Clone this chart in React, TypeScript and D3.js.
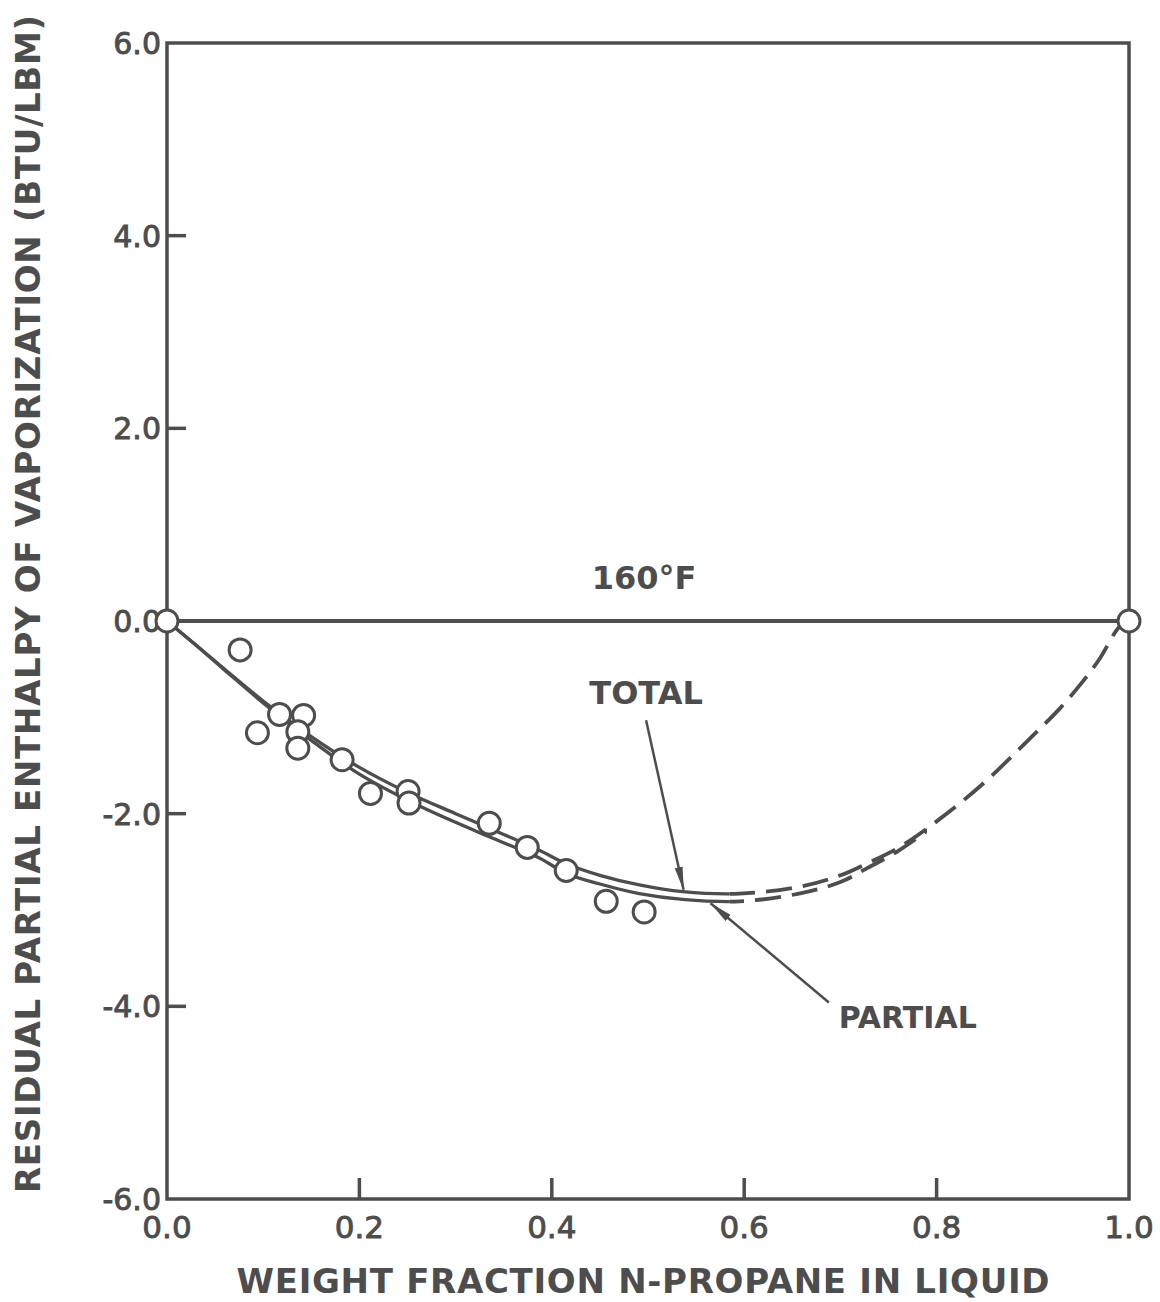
import React from "react";
import * as d3 from "d3";

// Residual partial enthalpy of vaporization vs. weight fraction n-propane, 160°F
const xTicks = [0.2, 0.4, 0.6, 0.8];
const yTicks = [4, 2, -2, -4];
const xTickLabels = ["0.0", "0.2", "0.4", "0.6", "0.8", "1.0"];
const xTickLabelValues = [0, 0.2, 0.4, 0.6, 0.8, 1.0];
const yTickLabels = ["6.0", "4.0", "2.0", "0.0", "-2.0", "-4.0", "-6.0"];
const yTickLabelValues = [6, 4, 2, 0, -2, -4, -6];

// Smoothed curves (x = weight fraction, y = BTU/LBM)
const curveX = [0, 0.03, 0.06, 0.1, 0.15, 0.2, 0.25, 0.3, 0.335, 0.387, 0.415, 0.45, 0.491, 0.536, 0.595, 0.657, 0.7, 0.727, 0.761, 0.8, 0.847, 0.899, 0.927, 0.951, 0.969, 0.99, 1.0];
const totalY = [0, -0.25, -0.50, -0.83, -1.20, -1.52, -1.78, -2.00, -2.15, -2.38, -2.52, -2.64, -2.74, -2.81, -2.83, -2.76, -2.64, -2.52, -2.35, -2.08, -1.70, -1.20, -0.92, -0.64, -0.40, -0.06, 0];
const partialY = [0, -0.25, -0.51, -0.85, -1.24, -1.59, -1.86, -2.09, -2.24, -2.46, -2.62, -2.73, -2.83, -2.89, -2.91, -2.83, -2.71, -2.57, -2.38, -2.10, -1.71, -1.20, -0.92, -0.64, -0.40, -0.06, 0];
const solidLimit = 0.585; // curves are dashed (extrapolated) beyond this fraction
const mergeLimit = 0.79; // past this fraction the two dashed curves coincide

// Measured points
const pointX = [0, 0.076, 0.094, 0.117, 0.142, 0.136, 0.136, 0.182, 0.2115, 0.2506, 0.2516, 0.335, 0.3745, 0.415, 0.4566, 0.496, 1.0];
const pointY = [0, -0.30, -1.16, -0.97, -0.98, -1.15, -1.32, -1.44, -1.79, -1.77, -1.89, -2.10, -2.35, -2.59, -2.91, -3.02, 0];

const W = 1160;
const H = 1302;
const INK = "#4d4d4d";
const FONT = "'DejaVu Sans', Verdana, sans-serif";

export default function App() {
  const x = d3.scaleLinear().domain([0, 1]).range([167, 1129]);
  const y = d3.scaleLinear().domain([-6, 6]).range([1199, 43]);

  const line = d3
    .line<[number, number]>()
    .x((d) => x(d[0]))
    .y((d) => y(d[1]))
    .curve(d3.curveCatmullRom.alpha(0.5));

  const totalPath = line(curveX.map((v, i) => [v, totalY[i]] as [number, number])) || "";
  const partialPath = line(curveX.map((v, i) => [v, partialY[i]] as [number, number])) || "";

  const [x0, x1] = x.range();
  const [yb, yt] = y.range();
  const splitX = x(solidLimit);
  const mergeX = x(mergeLimit);

  // Annotation anchors in data units
  const totalLabel = { x: 0.498, y: -0.86 };
  const totalArrow = { from: [0.498, -1.03], to: [0.537, -2.79] };
  const partialLabel = { x: 0.77, y: -4.22 };
  const partialArrow = { from: [0.688, -3.96], to: [0.565, -2.93] };
  const tempLabel = { x: 0.496, y: 0.33 };

  return (
    <svg
      width={W}
      height={H}
      viewBox={`0 0 ${W} ${H}`}
      style={{ position: "absolute", left: 0, top: 0, background: "#fff" }}
    >
      <defs>
        <clipPath id="solidPart">
          <rect x={0} y={0} width={splitX} height={H} />
        </clipPath>
        <clipPath id="dashedPart">
          <rect x={splitX} y={0} width={W - splitX} height={H} />
        </clipPath>
        <clipPath id="dashedSplit">
          <rect x={splitX} y={0} width={mergeX - splitX} height={H} />
        </clipPath>
        <marker
          id="arrowHead"
          viewBox="0 0 24 10"
          refX={23}
          refY={5}
          markerWidth={24}
          markerHeight={10}
          markerUnits="userSpaceOnUse"
          orient="auto"
        >
          <path d="M0,1 L24,5 L0,9 Z" fill={INK} />
        </marker>
      </defs>

      <rect x={0} y={0} width={W} height={H} fill="#fff" />

      {/* frame */}
      <rect x={x0} y={yt} width={x1 - x0} height={yb - yt} fill="none" stroke={INK} strokeWidth={3.5} />

      {/* zero line */}
      <line x1={x0} x2={x1} y1={y(0)} y2={y(0)} stroke={INK} strokeWidth={4} />

      {/* inward ticks */}
      {xTicks.map((t) => (
        <line key={`xt${t}`} x1={x(t)} x2={x(t)} y1={yb} y2={yb - 21} stroke={INK} strokeWidth={3.5} />
      ))}
      {yTicks.map((t) => (
        <line key={`yt${t}`} x1={x0} x2={x0 + 19} y1={y(t)} y2={y(t)} stroke={INK} strokeWidth={3.5} />
      ))}

      {/* tick labels */}
      <g fontFamily={FONT} fill={INK} stroke={INK} strokeWidth={0.9}>
        {xTickLabelValues.map((v, i) => (
          <text key={`xl${v}`} x={x(v)} y={1238} textAnchor="middle" fontSize={31}>
            {xTickLabels[i]}
          </text>
        ))}
        {yTickLabelValues.map((v, i) => (
          <text key={`yl${v}`} x={161} y={y(v) + 11} textAnchor="end" fontSize={30}>
            {yTickLabels[i]}
          </text>
        ))}
      </g>

      {/* curves */}
      <g fill="none" stroke={INK} strokeWidth={3.3}>
        <path d={totalPath} clipPath="url(#solidPart)" />
        <path d={partialPath} clipPath="url(#solidPart)" />
        <path d={totalPath} clipPath="url(#dashedPart)" strokeDasharray="26 11" strokeDashoffset={-8} strokeWidth={3.8} />
        <path d={partialPath} clipPath="url(#dashedSplit)" strokeDasharray="26 11" strokeDashoffset={-2} strokeWidth={3.8} />
      </g>

      {/* measured points */}
      {pointX.map((px, i) => (
        <circle
          key={`p${i}`}
          cx={x(px)}
          cy={y(pointY[i])}
          r={11}
          fill="#fff"
          stroke={INK}
          strokeWidth={3}
        />
      ))}

      {/* annotations */}
      <text x={x(tempLabel.x)} y={y(tempLabel.y)} textAnchor="middle" fontFamily={FONT} fontSize={32} fontWeight="bold" fill={INK}>
        160°F
      </text>
      <text x={x(totalLabel.x)} y={y(totalLabel.y)} textAnchor="middle" fontFamily={FONT} fontSize={32} fontWeight="bold" fill={INK}>
        TOTAL
      </text>
      <line
        x1={x(totalArrow.from[0])}
        y1={y(totalArrow.from[1])}
        x2={x(totalArrow.to[0])}
        y2={y(totalArrow.to[1])}
        stroke={INK}
        strokeWidth={2.5}
        markerEnd="url(#arrowHead)"
      />
      <text x={x(partialLabel.x)} y={y(partialLabel.y)} textAnchor="middle" fontFamily={FONT} fontSize={30} fontWeight="bold" fill={INK}>
        PARTIAL
      </text>
      <line
        x1={x(partialArrow.from[0])}
        y1={y(partialArrow.from[1])}
        x2={x(partialArrow.to[0])}
        y2={y(partialArrow.to[1])}
        stroke={INK}
        strokeWidth={2.5}
        markerEnd="url(#arrowHead)"
      />

      {/* axis titles */}
      <text
        x={643}
        y={1293}
        textAnchor="middle"
        fontFamily={FONT}
        fontSize={34}
        fontWeight="bold"
        fill={INK}
        textLength={813}
        lengthAdjust="spacing"
      >
        WEIGHT FRACTION N-PROPANE IN LIQUID
      </text>
      <text
        transform="translate(40,604) rotate(-90)"
        textAnchor="middle"
        fontFamily={FONT}
        fontSize={34}
        fontWeight="bold"
        fill={INK}
        textLength={1178}
        lengthAdjust="spacing"
      >
        RESIDUAL PARTIAL ENTHALPY OF VAPORIZATION (BTU/LBM)
      </text>
    </svg>
  );
}
